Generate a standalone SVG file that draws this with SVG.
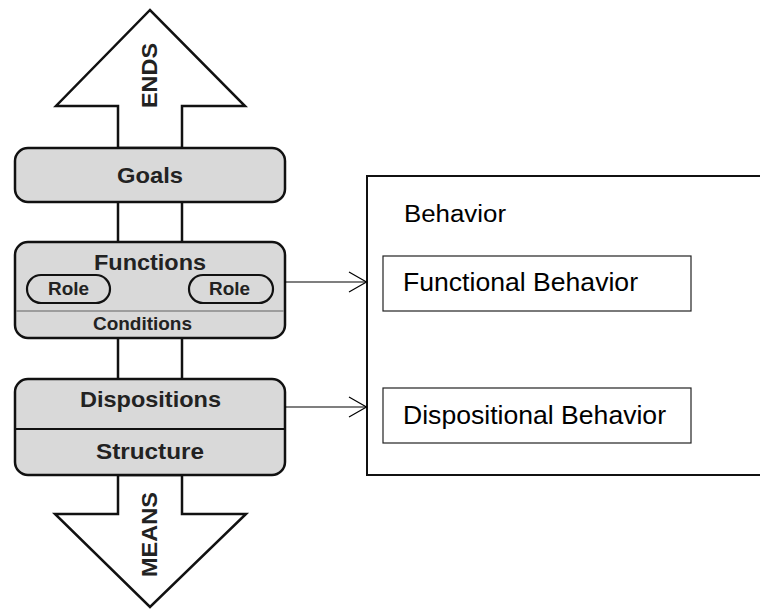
<svg xmlns="http://www.w3.org/2000/svg" width="760" height="610" viewBox="0 0 760 610">
  <style>
    .blk { fill: #d9d9d9; stroke: #111; stroke-width: 2.5; }
    .arrow { fill: #fff; stroke: #111; stroke-width: 2.5; stroke-linejoin: miter; }
    .shaft { stroke: #111; stroke-width: 2.5; }
    .pill { fill: #d9d9d9; stroke: #111; stroke-width: 2.2; }
    .lbl { font-family: "Liberation Sans", Arial, sans-serif; font-weight: bold; fill: #222; text-anchor: middle; }
    .big { font-size: 22px; }
    .small { font-size: 18.5px; }
    .plain { font-family: "Liberation Sans", Arial, sans-serif; fill: #000; }
    .sub { fill: #fff; stroke: #222; stroke-width: 1.2; }
    .conn { stroke: #000; stroke-width: 1.2; fill: none; }
  </style>

  <!-- ends / means arrows -->
  <g id="ends">
    <polygon class="arrow" points="118,148 118,106 56,106 150,10 245,106 182,106 182,148"/>
    <text class="lbl big" transform="translate(157,75.5) rotate(-90)" textLength="65" lengthAdjust="spacingAndGlyphs">ENDS</text>
  </g>
  <g id="means">
    <polygon class="arrow" points="118,475 118,514 55,514 150,607 246,514 182,514 182,475"/>
    <text class="lbl big" transform="translate(157,534.5) rotate(-90)" textLength="85" lengthAdjust="spacingAndGlyphs">MEANS</text>
  </g>

  <!-- shaft segments between blocks -->
  <g id="shafts">
    <line class="shaft" x1="118" y1="202" x2="118" y2="242"/>
    <line class="shaft" x1="182" y1="202" x2="182" y2="242"/>
    <line class="shaft" x1="118" y1="338" x2="118" y2="379"/>
    <line class="shaft" x1="182" y1="338" x2="182" y2="379"/>
  </g>

  <g id="goals">
    <rect class="blk" x="15" y="148" width="270" height="54" rx="13"/>
    <text class="lbl big" x="150" y="183" textLength="66" lengthAdjust="spacingAndGlyphs">Goals</text>
  </g>

  <g id="functions">
    <rect class="blk" x="15" y="242" width="270" height="96" rx="13"/>
    <line x1="16" y1="311" x2="284" y2="311" stroke="#888" stroke-width="1.5"/>
    <text class="lbl big" x="150" y="269.5" textLength="112" lengthAdjust="spacingAndGlyphs">Functions</text>
    <g id="role-left">
      <rect class="pill" x="27" y="275" width="83" height="28" rx="14"/>
      <text class="lbl small" x="68.5" y="295" textLength="41" lengthAdjust="spacingAndGlyphs">Role</text>
    </g>
    <g id="role-right">
      <rect class="pill" x="189" y="275" width="84" height="28" rx="14"/>
      <text class="lbl small" x="229.5" y="295" textLength="41" lengthAdjust="spacingAndGlyphs">Role</text>
    </g>
    <text class="lbl small" x="142.5" y="330" textLength="99" lengthAdjust="spacingAndGlyphs">Conditions</text>
  </g>

  <g id="dispositions-structure">
    <rect class="blk" x="15" y="379" width="270" height="96" rx="13"/>
    <line x1="16" y1="429" x2="284" y2="429" stroke="#111" stroke-width="2"/>
    <text class="lbl big" x="150.5" y="407" textLength="141" lengthAdjust="spacingAndGlyphs">Dispositions</text>
    <text class="lbl big" x="150" y="458.5" textLength="108" lengthAdjust="spacingAndGlyphs">Structure</text>
  </g>

  <!-- behavior container -->
  <g id="behavior">
    <rect x="367" y="176" width="420" height="299" fill="#fff" stroke="#111" stroke-width="2"/>
    <text class="plain" x="404" y="222" font-size="23" textLength="102" lengthAdjust="spacingAndGlyphs">Behavior</text>
  </g>
  <g id="functional-behavior">
    <rect class="sub" x="383" y="256" width="308" height="55"/>
    <text class="plain" x="403" y="290.7" font-size="26.5" textLength="235" lengthAdjust="spacingAndGlyphs">Functional Behavior</text>
  </g>
  <g id="dispositional-behavior">
    <rect class="sub" x="383" y="388" width="308" height="55"/>
    <text class="plain" x="403" y="424" font-size="26.5" textLength="263" lengthAdjust="spacingAndGlyphs">Dispositional Behavior</text>
  </g>

  <!-- connectors with open chevron heads -->
  <g id="connectors">
    <line class="conn" x1="285" y1="282" x2="366" y2="282"/>
    <polyline class="conn" points="349,272 366.5,282 349,292"/>
    <line class="conn" x1="285" y1="407" x2="366" y2="407"/>
    <polyline class="conn" points="349,397 366.5,407 349,417"/>
  </g>
</svg>
